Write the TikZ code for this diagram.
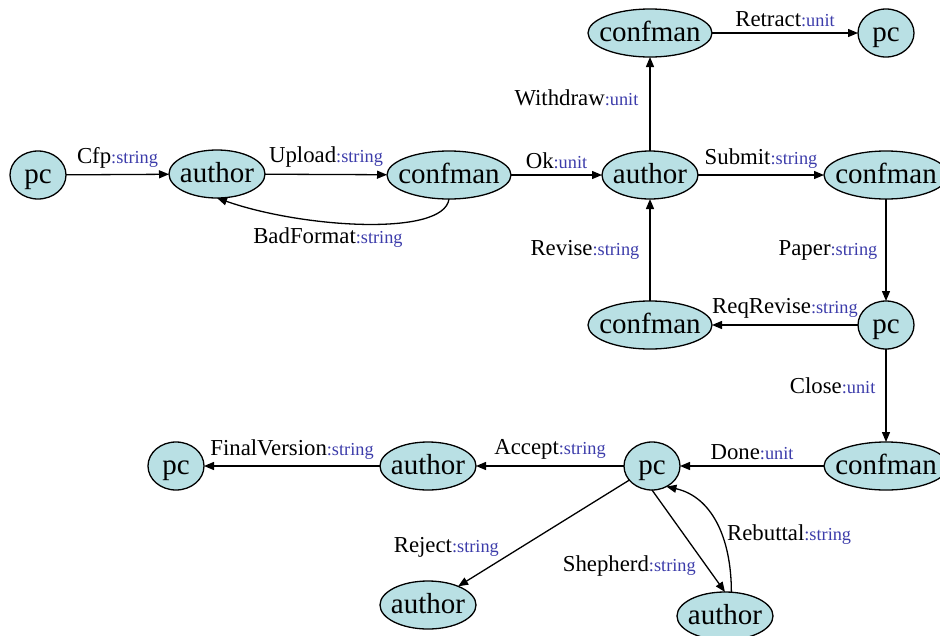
\documentclass[tikz,border=0pt]{standalone}
\usepackage{fontspec}
\setmainfont{Liberation Serif}
\usetikzlibrary{shapes.geometric,arrows.meta}
\definecolor{nodefill}{RGB}{185,224,228}
\definecolor{typeblue}{RGB}{60,60,170}
\newcommand\ntx[1]{\makebox[0pt]{\raisebox{-0.3em}[0pt][0pt]{#1}}}
\newcommand\lbl[2]{{\fontsize{22.8}{25}\selectfont #1}{\color{typeblue}\fontsize{18.3}{20}\selectfont :#2}}
\begin{document}
\begin{tikzpicture}[x=1pt,y=-1pt,
 st/.style={ellipse, draw, line width=1.3pt, fill=nodefill, inner sep=0pt, outer sep=0pt, minimum height=48pt, font=\fontsize{29}{32}\selectfont},
 pcst/.style={st, minimum width=56pt},
 aust/.style={st, minimum width=96pt},
 cmst/.style={st, minimum width=124pt},
 tr/.style={line width=1.3pt, -{Triangle[length=10pt,width=8pt]}},
 lb/.style={inner sep=2pt}]
\useasboundingbox (0,0) rectangle (940,635);
% nodes
\node[pcst] (pc1) at (38,175) {\ntx{pc}};
\node[aust] (au1) at (217,174) {\ntx{author}};
\node[cmst] (cm1) at (449,175) {\ntx{confman}};
\node[aust] (au2) at (650,175) {\ntx{author}};
\node[cmst] (cmT) at (650,33) {\ntx{confman}};
\node[pcst] (pcT) at (886,33) {\ntx{pc}};
\node[cmst] (cmR) at (886,175) {\ntx{confman}};
\node[cmst] (cmM) at (650,325) {\ntx{confman}};
\node[pcst] (pcM) at (886,325) {\ntx{pc}};
\node[cmst] (cmR2) at (886,466) {\ntx{confman}};
\node[pcst] (pcB) at (652,466) {\ntx{pc}};
\node[aust] (auBL) at (428,466) {\ntx{author}};
\node[pcst] (pcBL) at (176,466) {\ntx{pc}};
\node[aust] (auRj) at (428,605) {\ntx{author}};
\node[aust] (auSh) at (725,616) {\ntx{author}};
% edges
\draw[tr] (pc1) -- node[lb, above=4pt] (l1) {\lbl{Cfp}{string}} (au1);
\draw[tr] (au1) -- node[lb, above=4pt] (l2) {\lbl{Upload}{string}} (cm1);
\draw[tr] (cm1.south) .. controls +(-5,38) and +(85,30) .. node[lb, pos=0.62, below=3pt] (l3) {\lbl{BadFormat}{string}} (au1.south);
\draw[tr] (cm1) -- node[lb, above=4pt] (l4) {\lbl{Ok}{unit}} (au2);
\draw[tr] (au2) -- node[lb, pos=0.57, left=9pt] (l5) {\lbl{Withdraw}{unit}} (cmT);
\draw[tr] (cmT) -- node[lb, above=4pt] (l6) {\lbl{Retract}{unit}} (pcT);
\draw[tr] (au2) -- node[lb, above=4pt] (l7) {\lbl{Submit}{string}} (cmR);
\draw[tr] (cmR) -- node[lb, left=6pt] (l8) {\lbl{Paper}{string}} (pcM);
\draw[tr] (pcM) -- node[lb, above=4pt] (l9) {\lbl{ReqRevise}{string}} (cmM);
\draw[tr] (cmM) -- node[lb, left=8pt] (l10) {\lbl{Revise}{string}} (au2);
\draw[tr] (pcM) -- node[lb, pos=0.4, left=8pt] (l11) {\lbl{Close}{unit}} (cmR2);
\draw[tr] (cmR2) -- node[lb, above=4pt] (l12) {\lbl{Done}{unit}} (pcB);
\draw[tr] (pcB) -- node[lb, above=4pt] (l13) {\lbl{Accept}{string}} (auBL);
\draw[tr] (auBL) -- node[lb, above=4pt] (l14) {\lbl{FinalVersion}{string}} (pcBL);
\draw[tr] (pcB) -- node[lb, pos=0.63, anchor=east, xshift=-20pt] (l15) {\lbl{Reject}{string}} (auRj);
\draw[tr] (pcB.south) -- node[lb, pos=0.745, anchor=east, xshift=-8pt] (l16) {\lbl{Shepherd}{string}} (auSh.north);
\draw[tr] (auSh.75) .. controls +(0,-55) and +(45,10) .. node[lb, pos=0.4, anchor=west, xshift=3pt] (l17) {\lbl{Rebuttal}{string}} (pcB.-55);
\end{tikzpicture}
\end{document}
